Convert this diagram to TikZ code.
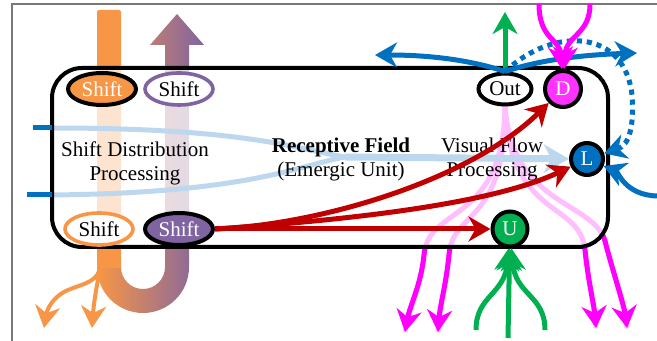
\documentclass[tikz,border=0pt]{standalone}
\usepackage{fontspec}
\setmainfont{Liberation Serif}
\usepackage{tikz}
\usetikzlibrary{
    arrows.meta,
    shapes.geometric,
    backgrounds
}
\definecolor{shiftorange}{RGB}{247,150,70}
\definecolor{shiftpurple}{RGB}{128,100,162}
\definecolor{flowblue}{RGB}{0,112,192}
\definecolor{paleblue}{RGB}{189,215,238}
\definecolor{unitgreen}{RGB}{0,176,80}
\definecolor{darkred}{RGB}{192,0,0}
\definecolor{vismagenta}{RGB}{255,0,255}
\definecolor{framegray}{RGB}{120,120,120}

\begin{document}
\begin{tikzpicture}[
    x=0.5pt, y=-0.5pt,
    font=\fontsize{10.5}{12}\selectfont,
    shiftnode/.style={
        ellipse, draw, line width=2pt, inner sep=0pt,
        minimum width=34pt, minimum height=16pt
    },
    unit/.style={circle, draw, line width=2pt, inner sep=0pt, text=white},
    arrow/.style={-{Stealth[length=11pt, width=12.5pt, inset=3.5pt]}, line width=2.5pt}
]
\useasboundingbox (0,0) rectangle (657,341);

% Frame
\draw[framegray, line width=0.6pt] (12,341) -- (12,4) -- (657,4);

% Shift nodes
\node[shiftnode, fill=shiftorange, text=white] (st1) at (102,89) {Shift};
\node[shiftnode, draw=shiftpurple, line width=1.8pt, fill=white] (st2) at (179,89) {Shift};
\node[shiftnode, draw=shiftorange, line width=1.8pt, fill=white] (sb1) at (99,229) {Shift};
\node[shiftnode, fill=shiftpurple, text=white] (sb2) at (179,229) {Shift};

% Units
\node[ellipse, draw, line width=2pt, inner sep=0pt, fill=white,
      minimum width=26.5pt, minimum height=15.5pt] (out) at (505,89) {Out};
\node[unit, fill=vismagenta!80!white, minimum size=18pt] (d) at (563,89) {D};
\node[unit, fill=flowblue, minimum size=16pt] (l) at (587,159) {L};
\node[unit, fill=unitgreen, minimum size=17.5pt] (u) at (510,229) {U};

% Labels
\node[align=center] (sdp) at (135,163) {Shift Distribution\\Processing};
\node[align=center] (rf) at (341,159) {\textbf{Receptive Field}\\(Emergic Unit)};
\node[align=center] (vfp) at (492,159) {Visual Flow\\Processing};

% Free ends
\coordinate (inup) at (52,128);
\coordinate (indn) at (52,195);
\coordinate (srcup) at (33,128);
\coordinate (srcdn) at (27,195);
\coordinate (merge) at (345,157);
\coordinate (ob) at (101,264);
\coordinate (ot1) at (44,328);
\coordinate (ot2) at (92,328);
\coordinate (mb1) at (405,332);
\coordinate (mb2) at (438,332);
\coordinate (mb3) at (596,328);
\coordinate (mb4) at (627,328);
\coordinate (mtl) at (539,4);
\coordinate (mtr) at (590,4);
\coordinate (gtop) at (505,12);
\coordinate (bltip) at (375,55);
\coordinate (brtip) at (637,53);
\coordinate (rin) at (657,196);
\coordinate (gb1) at (476,330);
\coordinate (gb2) at (508,338);
\coordinate (gb3) at (545,330);

\begin{pgfonlayer}{background}
% Shift bars
\shade[left color=shiftorange, right color=shiftpurple]
    (97,267) arc[start angle=180, end angle=0, radius=46] -- (189,45) -- (204,45)
    -- (177,14) -- (150,45) -- (165,45) -- (165,267)
    arc[start angle=0, end angle=180, radius=22] -- cycle;
\fill[shiftorange, rounded corners=1pt] (97,268) -- (97,10) -- (121,10) -- (121,268) -- cycle;
\fill[white, opacity=0.75] (92,70) rectangle (206,245);

% Visual flow strands
\foreach \strand in {
    {(out.south) .. controls (503,225) and (428,205) .. (424,255) .. controls (421,285) and (410,305) .. (mb1)},
    {(out.south) .. controls (506,225) and (452,210) .. (449,255) .. controls (446,285) and (440,305) .. (mb2)},
    {(out.south) .. controls (510,220) and (580,200) .. (585,250) .. controls (588,280) and (594,305) .. (mb3)},
    {(out.south) .. controls (513,210) and (598,200) .. (606,245) .. controls (614,275) and (624,305) .. (mb4)}
} {
    \draw[vismagenta!25, line width=2.5pt] \strand;
    \begin{scope}
        \clip (0,248) -- (580,248) -- (598,236) -- (610,225) -- (657,225) -- (657,341) -- (0,341) -- cycle;
        \draw[arrow, vismagenta] \strand;
    \end{scope}
}

% Receptive field input
\draw[paleblue, line width=2.5pt] (inup) .. controls (250,128) and (300,150) .. (merge);
\draw[paleblue, line width=2.5pt] (indn) .. controls (250,193) and (300,165) .. (merge);
\draw[paleblue, line width=3.5pt, -{Stealth[length=12.5pt, width=14pt, inset=3.5pt]}] (merge) -- (l);

% Field box
\draw[line width=2pt, rounded corners=15pt] (52,68) rectangle (608,247);
\end{pgfonlayer}

% Inputs from the left
\draw[flowblue, line width=2.5pt] (srcup) -- (inup);
\draw[flowblue, line width=2.5pt] (srcdn) -- (indn);

% Orange branches
\draw[arrow, shiftorange, line width=2pt] (ob) .. controls (99,282) and (85,283) .. (68,290)
    .. controls (52,297) and (47,310) .. (ot1);
\draw[arrow, shiftorange, line width=2pt] (ob) .. controls (97,285) and (94,300) .. (ot2);

% Shift to units
\draw[arrow, darkred] (sb2.east) .. controls (320,225) and (470,180) .. (d);
\draw[arrow, darkred] (sb2.east) .. controls (380,218) and (500,200) .. (l);
\draw[arrow, darkred] (sb2.east) -- (u);

% Output
\draw[arrow, unitgreen] (out.north) -- (gtop);
\draw[arrow, flowblue] (out.north) .. controls (470,60) and (430,55) .. (bltip);
\draw[arrow, flowblue] (out.north) .. controls (540,60) and (580,55) .. (brtip);
\draw[arrow, flowblue, dash pattern=on 2.6pt off 2.4pt] (out.north)
    .. controls (555,25) and (625,30) .. (632,95) .. controls (634,125) and (630,145) .. (l);
\draw[arrow, flowblue] (rin) .. controls (625,195) and (618,172) .. (l);

% Into D and U
\draw[arrow, vismagenta] (mtl) .. controls (539,40) and (560,38) .. (d);
\draw[arrow, vismagenta] (mtr) .. controls (590,35) and (566,35) .. (d);
\draw[arrow, unitgreen] (gb2) -- (u);
\draw[arrow, unitgreen] (gb1) .. controls (476,295) and (505,295) .. (u);
\draw[arrow, unitgreen] (gb3) .. controls (545,295) and (515,295) .. (u);

\end{tikzpicture}
\end{document}
